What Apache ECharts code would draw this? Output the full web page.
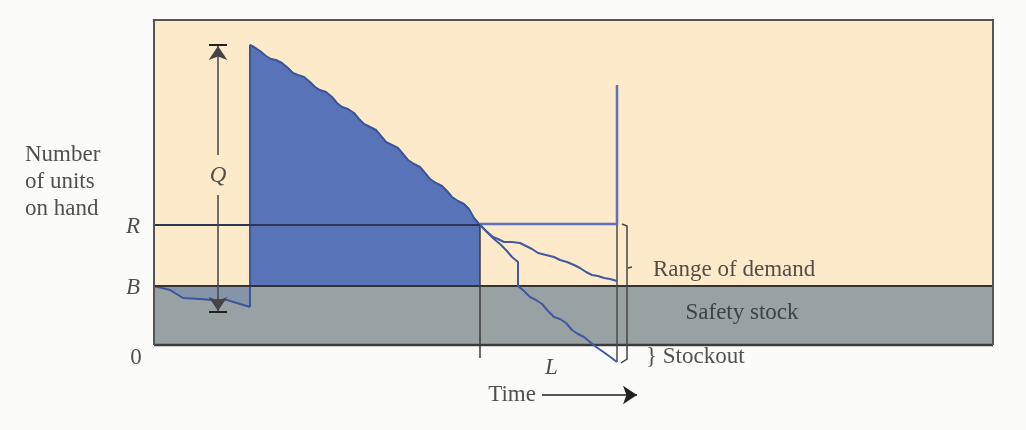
<!DOCTYPE html>
<html>
<head>
<meta charset="utf-8">
<script src="https://cdn.jsdelivr.net/npm/echarts@6/dist/echarts.min.js"></script>
<style>
html,body{margin:0;padding:0;background:#fbfbfa;}
#chart{width:1026px;height:430px;}
</style>
</head>
<body>
<div id="chart"></div>
<script>
// ---- data (time units, units on hand) ----
const levelLabels = ['R', 'B', '0'];
const levelValues = [120, 59, 0];          // reorder point, safety stock, zero
const yTitleLines = ['Number', 'of units', 'on hand'];
const orderLabel = 'Q';
const leadLabel = 'L';
const xTitle = 'Time';
const notes = ['Range of demand', 'Safety stock', '} Stockout'];
const orderQty = [33, 300];                 // Q spans from low point to peak
const leadStart = 326, leadEnd = 463;       // lead time L
const plotEndX = 839, plotTop = 325;
const nextOrderPeak = 260;

const inventoryBefore = [[0,59],[16,55],[29,47],[46,46],[59,45],[73,45],[86,41],[96,38]];
const inventoryCycle = [[96,38],[96,300],[100,298],[106,294],[112,289],[117,286],[122,285],[128,282],
  [134,277],[139,272],[144,270],[150,268],[156,263],[161,258],[166,255],[172,253],[178,248],[183,242],
  [188,238],[194,236],[200,232],[205,226],[210,221],[216,218],[222,215],[227,209],[232,203],[238,200],
  [244,197],[249,191],[254,185],[260,181],[266,178],[271,172],[276,166],[282,162],[288,159],[293,154],
  [298,148],[304,144],[310,141],[315,136],[320,127],[326,120]];
const slowDemand = [[326,120],[332,114],[339,108],[344,106],[350,103],[358,103],[366,102],[372,99],
  [378,96],[384,92],[392,90],[400,88],[406,85],[413,83],[420,80],[426,77],[432,73],[438,70],[444,69],
  [450,67],[456,66],[463,64]];
const fastDemand = [[326,120],[333,113],[340,106],[346,101],[352,95],[358,88],[364,83],[364,59],
  [370,54],[376,48],[382,45],[388,41],[394,34],[400,28],[406,26],[412,22],[418,15],[424,11],[430,8],
  [436,3],[442,-2],[448,-6],[455,-11],[463,-17]];

const font = 'Liberation Serif';
const ink = '#262626';
const blueFill = '#5873b8';
const blueLine = '#3a5699';

function txt(x, y, s, opt) {
  opt = opt || {};
  return {
    value: [x, y],
    label: Object.assign({
      show: true, formatter: s, position: opt.align === 'left' ? 'right' : 'inside',
      distance: 0, color: ink, fontFamily: font, fontSize: 23,
      fontStyle: opt.italic ? 'italic' : 'normal'
    }, opt.extra || {})
  };
}

const labelData = [];
yTitleLines.forEach((s, i) => labelData.push(txt(-129, 190 - i * 27, s, {align: 'left'})));
labelData.push(txt(-21, levelValues[0] - 2, levelLabels[0], {italic: true}));
labelData.push(txt(-21, levelValues[1] - 2, levelLabels[1], {italic: true}));
labelData.push(txt(-18, levelValues[2] - 13, levelLabels[2]));
labelData.push(txt(64, 169, orderLabel, {italic: true}));
labelData.push(txt((leadStart + leadEnd) / 2 + 3, -23, leadLabel, {italic: true}));
labelData.push(txt(358, -50, xTitle));
labelData.push(txt(499, 75, notes[0], {align: 'left'}));
labelData.push(txt(588, 32, notes[1], {extra: {color: '#222a2e'}}));
labelData.push(txt(492, -12, notes[2], {align: 'left'}));

function seg(coords, color, width) {
  return {coords: coords, lineStyle: {color: color, width: width, opacity: 1}};
}

const structural = [
  seg([[0, levelValues[0]], [leadStart, levelValues[0]]], '#2c3656', 2),
  seg([[leadStart, levelValues[0] + 1], [leadEnd, levelValues[0] + 1], [leadEnd, nextOrderPeak]], '#5f71b8', 2.5),
  seg([[0, levelValues[1]], [plotEndX, levelValues[1]]], '#333', 2),
  seg([[0, 0], [plotEndX, 0]], '#3c3c3c', 2.5),
  seg([[0, 0], [0, plotTop], [plotEndX, plotTop], [plotEndX, 0]], '#555', 2),
  seg([[leadStart, levelValues[0]], [leadStart, -13]], '#3a3a3a', 1.5),
  seg([[leadEnd, levelValues[0]], [leadEnd, -17]], '#4a4a4a', 1.5),
  seg([[468, 121], [473, 119], [473, -14], [467, -18]], '#444', 1.5),
  seg([[474, 77], [478, 78]], '#444', 1.5),
  // Q arrow caps
  seg([[55, orderQty[1]], [73, orderQty[1]]], '#222', 2),
  seg([[55, orderQty[0]], [73, orderQty[0]]], '#222', 2)
];

const arrows = [
  seg([[64, 190], [64, orderQty[1] - 1]], '#444', 1.5),
  seg([[64, 150], [64, orderQty[0] + 1]], '#444', 1.5),
  seg([[388, -50], [483, -50]], '#222', 1.5)
];

const option = {
  animation: false,
  backgroundColor: '#fbfbfa',
  grid: {left: 0, right: 0, top: 0, bottom: 0},
  xAxis: {type: 'value', min: -154, max: 872, show: false},
  yAxis: {type: 'value', min: -85, max: 345, show: false},
  series: [
    {
      type: 'line', data: [], z: 0, silent: true,
      markArea: {silent: true, data: [
        [{coord: [0, levelValues[1]], itemStyle: {color: '#fdeacb'}}, {coord: [plotEndX, plotTop]}],
        [{coord: [0, 0], itemStyle: {color: '#98a1a4'}}, {coord: [plotEndX, levelValues[1]]}]
      ]}
    },
    {
      type: 'line', data: inventoryBefore, showSymbol: false, z: 2,
      lineStyle: {color: blueLine, width: 2},
      areaStyle: {origin: levelValues[1], color: 'rgba(88,116,186,0.4)'}
    },
    {
      type: 'line', data: inventoryCycle, showSymbol: false, z: 2,
      lineStyle: {color: blueLine, width: 2},
      areaStyle: {origin: levelValues[1], color: blueFill, opacity: 1}
    },
    {
      type: 'line', data: slowDemand, showSymbol: false, z: 4,
      lineStyle: {color: '#42599c', width: 2}
    },
    {
      type: 'line', data: fastDemand, showSymbol: false, z: 4,
      lineStyle: {color: '#42599c', width: 2}
    },
    {
      type: 'lines', coordinateSystem: 'cartesian2d', polyline: true, z: 3,
      data: structural
    },
    {
      type: 'lines', coordinateSystem: 'cartesian2d', z: 3,
      symbol: ['none', 'arrow'], symbolSize: 14,
      itemStyle: {color: '#222'},
      data: arrows
    },
    {
      type: 'scatter', symbolSize: 0, z: 6, silent: true, data: labelData
    }
  ]
};

const chart = echarts.init(document.getElementById('chart'), null, {renderer: 'canvas'});
chart.setOption(option);
</script>
</body>
</html>
